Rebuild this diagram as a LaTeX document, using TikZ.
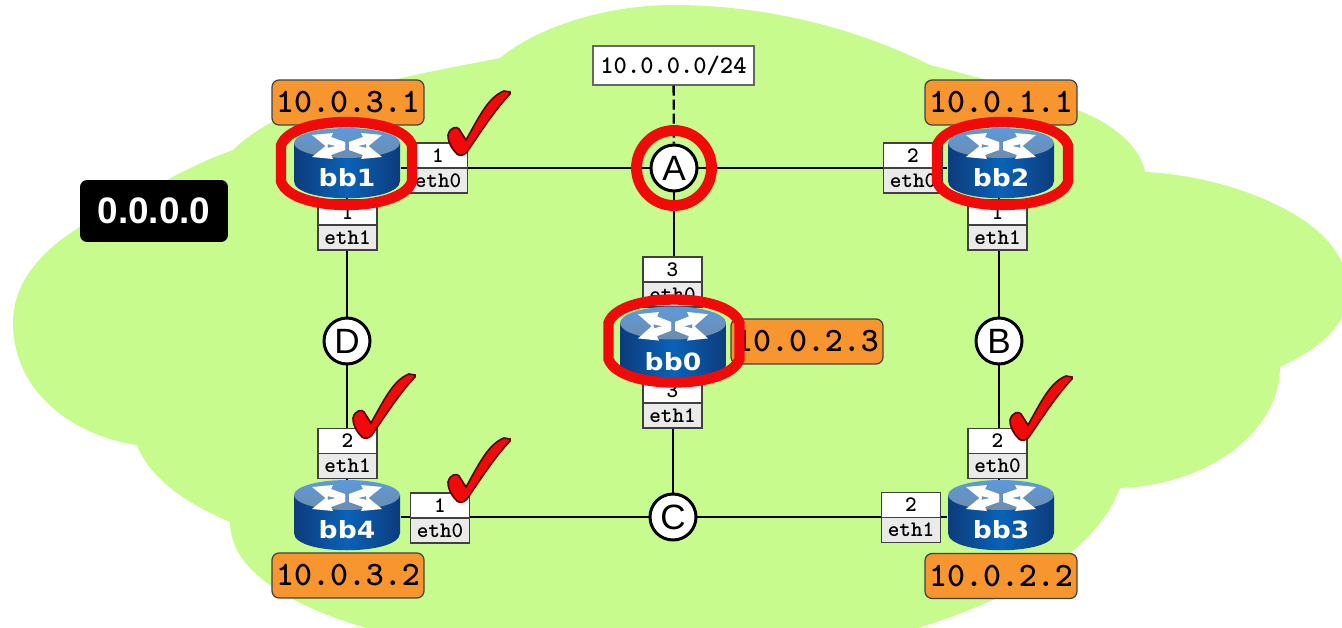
\documentclass[tikz,border=0pt]{standalone}
\usepackage{fontspec}
\setmainfont{Liberation Sans}
\newfontfamily\iconfont{DejaVu Sans}
\usetikzlibrary{positioning}
\definecolor{cloudgreen}{HTML}{C8FB8E}
\definecolor{addrorange}{HTML}{F7962F}
\definecolor{ifgrey}{HTML}{EAEAEA}
\definecolor{ringred}{HTML}{F00A0A}
\definecolor{bodymid}{HTML}{0A62B8}
\definecolor{bodydark}{HTML}{0C3C7C}
\definecolor{lidtop}{HTML}{5C9ADB}
\definecolor{lidlow}{HTML}{6E8CAD}
\tikzset{
  routerspot/.style={minimum width=2.14cm, minimum height=1.38cm, inner sep=0pt},
  hub/.style={circle, draw, line width=1.7pt, fill=white, minimum size=0.92cm, inner sep=0pt, font=\fontsize{20}{20}\selectfont},
  link/.style={line width=1.3pt},
  ifnum/.style={draw=black!75, fill=white, line width=0.7pt, minimum width=1.18cm, minimum height=0.5cm, inner sep=0pt, outer sep=0pt, font=\ttfamily\bfseries\fontsize{12.6}{12.6}\selectfont},
  ifname/.style={ifnum, fill=ifgrey},
  addr/.style={draw=black!75, fill=addrorange, rounded corners=0.14cm, line width=0.7pt, minimum width=3.04cm, minimum height=0.9cm, inner sep=0pt, font=\ttfamily\bfseries\fontsize{19.5}{19.5}\selectfont},
  routericon/.pic={
    % corpo
    \path[left color=bodydark, right color=bodydark, middle color=bodymid]
      (-53,-20) -- (-53,18) .. controls (-53,41) and (53,41) .. (53,18) -- (53,-20) -- cycle;
    % topo
    \path[top color=lidtop, bottom color=lidlow]
      (0,-20) ellipse [x radius=53, y radius=15];
    % setas
    \foreach \sx/\sy in {1/1,-1/1,1/-1,-1/-1}
      \fill[white, shift={(0,-17)}, xscale=\sx, yscale=\sy]
        (2,-2) -- (20,2) -- (19,-2) -- (35,11) -- (14,13) -- (16,9) -- (2,4) -- cycle;
    \node[white, xscale=1.12, font=\iconfont\bfseries\fontsize{13.5}{13.5}\selectfont] (-name) at (0,15) {#1};
  },
  ringmark/.pic={
    \draw[ringred, line width=5.9pt]
      (-65.5,-18) .. controls (-60,-34) and (-30,-41.5) .. (0,-41.5)
      .. controls (30,-41.5) and (60,-34) .. (65.5,-18) -- (65.5,18)
      .. controls (60,34) and (30,41.5) .. (0,41.5)
      .. controls (-30,41.5) and (-60,34) .. (-65.5,18) -- cycle;
  },
  checkmark/.pic={
    \fill[ringred, draw=black!65!red, line width=0.9pt]
      (-12,-20) .. controls (-10,-28) and (-3,-29) .. (-1,-26) -- (6,-15)
      .. controls (18,-36) and (28,-58) .. (44,-64) -- (50,-63) -- (50,-61)
      .. controls (34,-44) and (20,-22) .. (7,-3) .. controls (4,1) and (-1,1) .. (-3,-1)
      .. controls (-8,-6) and (-12,-12) .. cycle;
  },
}
\begin{document}
\begin{tikzpicture}[x=0.02cm, y=-0.02cm]
  \clip (0,0) rectangle (1342,628);
  % nuvem
  \fill[cloudgreen] (13,323) .. controls (13,270) and (60,235) .. (110,210)
    .. controls (150,190) and (190,165) .. (233,150)
    .. controls (290,95) and (400,78) .. (500,58)
    .. controls (540,25) and (610,5) .. (673,5)
    .. controls (770,5) and (860,30) .. (930,65)
    .. controls (990,80) and (1040,95) .. (1077,110)
    .. controls (1110,122) and (1140,145) .. (1145,172)
    .. controls (1220,175) and (1320,210) .. (1342,263)
    -- (1342,317) .. controls (1330,340) and (1305,355) .. (1280,367)
    .. controls (1280,430) and (1210,485) .. (1120,488)
    .. controls (1100,540) and (1040,590) .. (918,628)
    -- (367,628) .. controls (310,612) and (255,585) .. (237,550)
    .. controls (232,540) and (230,530) .. (230,522)
    .. controls (190,505) and (150,480) .. (137,445)
    .. controls (70,435) and (13,390) .. (13,323) -- cycle;
  % roteadores
  \node[routerspot] (bb1) at (347,163) {};
  \node[routerspot] (bb2) at (1001,163) {};
  \node[routerspot] (bb0) at (673,345) {};
  \node[routerspot] (bb3) at (1001,515) {};
  \node[routerspot] (bb4) at (347,515) {};
  % redes
  \node[hub] (hubA) at (674,168) {A};
  \node[hub] (hubB) at (999,341) {B};
  \node[hub] (hubC) at (673,517) {C};
  \node[hub] (hubD) at (347,341) {D};
  \node[draw=black!60, fill=white, line width=0.7pt, minimum width=3.22cm, minimum height=0.78cm, inner sep=0pt, font=\ttfamily\bfseries\fontsize{14.4}{14.4}\selectfont] (prefix) at (673.5,65.5) {10.0.0.0/24};
  % enlaces
  \draw[link] (hubA.west) -- (hubA.west -| bb1.east);
  \draw[link] (hubA.east) -- (hubA.east -| bb2.west);
  \draw[link] (hubA) -- (hubA |- bb0.north);
  \draw[link] (hubC) -- (hubC |- bb0.south);
  \draw[link, line width=0.8pt] (hubC.west) -- (hubC.west -| bb4.east);
  \draw[link, line width=1.7pt] (hubC.east) -- (hubC.east -| bb3.west);
  \draw[link] (bb1) -- (hubD);
  \draw[link] (bb4) -- (hubD);
  \draw[link] (hubB) -- (hubB |- bb2.south);
  \draw[link] (hubB) -- (hubB |- bb3.north);
  \draw[link, dash pattern=on 0.2cm off 0.08cm] (prefix) -- (hubA);
  % interfaces
  \node[ifnum] (bb1e0n) at (438,155.5) {1};
  \node[ifname, below=0pt of bb1e0n] (bb1e0) {eth0};
  \node[ifnum] (bb1e1n) at (347.5,212.5) {1};
  \node[ifname, below=0pt of bb1e1n] (bb1e1) {eth1};
  \node[ifnum] (bb2e0n) at (913,155.5) {2};
  \node[ifname, below=0pt of bb2e0n] (bb2e0) {eth0};
  \node[ifnum] (bb2e1n) at (997.5,212.5) {1};
  \node[ifname, below=0pt of bb2e1n] (bb2e1) {eth1};
  \node[ifnum] (bb0e0n) at (672.5,269.5) {3};
  \node[ifname, below=0pt of bb0e0n] (bb0e0) {eth0};
  \node[ifnum] (bb0e1n) at (672.5,390.5) {3};
  \node[ifname, below=0pt of bb0e1n] (bb0e1) {eth1};
  \node[ifnum] (bb4e1n) at (347.5,441) {2};
  \node[ifname, below=0pt of bb4e1n] (bb4e1) {eth1};
  \node[ifnum] (bb4e0n) at (440,505.5) {1};
  \node[ifname, below=0pt of bb4e0n] (bb4e0) {eth0};
  \node[ifnum] (bb3e0n) at (997.5,441) {2};
  \node[ifname, below=0pt of bb3e0n] (bb3e0) {eth0};
  \node[ifnum] (bb3e1n) at (911,505) {2};
  \node[ifname, below=0pt of bb3e1n] (bb3e1) {eth1};
  % enderecos
  \node[addr] (addr1) at (348,102.5) {10.0.3.1};
  \node[addr] (addr2) at (1001,102.5) {10.0.1.1};
  \node[addr] (addr0) at (807,341.5) {10.0.2.3};
  \node[addr] (addr4) at (348,575.5) {10.0.3.2};
  \node[addr] (addr3) at (1001,576) {10.0.2.2};
  \node[fill=black, text=white, rounded corners=0.14cm, minimum width=2.96cm, minimum height=1.24cm, inner sep=0pt, font=\bfseries\fontsize{21}{21}\selectfont] (area) at (154,211) {0.0.0.0};
  % icones
  \pic at (bb1) {routericon=bb1};
  \pic at (bb2) {routericon=bb2};
  \pic[yscale=1.1] at (bb0) {routericon=bb0};
  \pic at (bb3) {routericon=bb3};
  \pic at (bb4) {routericon=bb4};
  % destaques
  \pic at (346.5,163.5) {ringmark};
  \pic at (1002.5,163.5) {ringmark};
  \pic at (674,341) {ringmark};
  \draw[ringred, line width=6.2pt] (hubA) circle (37.5);
  % marcas
  \pic at (460,155) {checkmark};
  \pic at (365,438) {checkmark};
  \pic at (460,502) {checkmark};
  \pic at (1022,440) {checkmark};
\end{tikzpicture}
\end{document}
